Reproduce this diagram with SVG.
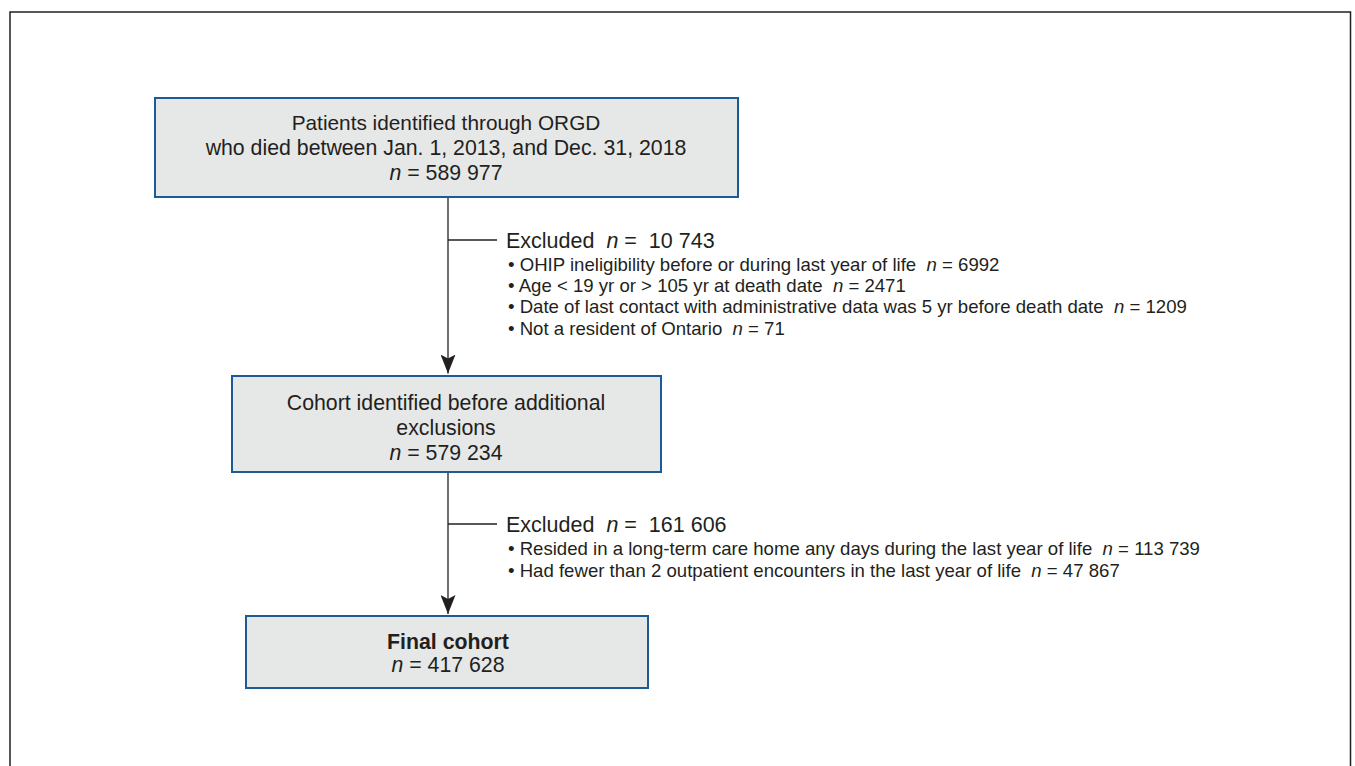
<svg xmlns="http://www.w3.org/2000/svg" width="1355" height="766" viewBox="0 0 1355 766">
<style>
.box{fill:#e6e7e7;stroke:#1c5b9a;stroke-width:2}
.t{font-family:"Liberation Sans",Arial,sans-serif;fill:#231f20;white-space:pre}
.c{font-size:21.3px;text-anchor:middle}
.ex{font-size:21.5px}
.b{font-size:18.6px}
.ln{stroke:#231f20;stroke-width:1.3;fill:none}
</style>
<defs>
<marker id="arr" markerWidth="19" markerHeight="15" refX="19" refY="7.5" orient="auto" markerUnits="userSpaceOnUse" viewBox="0 0 19 15">
<path d="M0,0 L19,7.5 L0,15 L4,7.5 Z" fill="#231f20"/>
</marker>
</defs>
<rect x="0" y="0" width="1355" height="766" fill="#fff"/>
<rect x="10" y="12" width="1340.5" height="770" fill="none" stroke="#231f20" stroke-width="1.5"/>
<g id="connectors">
<line class="ln" x1="448" y1="197" x2="448" y2="373.5" marker-end="url(#arr)"/>
<line class="ln" x1="448" y1="240" x2="497" y2="240"/>
<line class="ln" x1="448" y1="472" x2="448" y2="614" marker-end="url(#arr)"/>
<line class="ln" x1="448" y1="524" x2="497" y2="524"/>
</g>
<g id="n1">
<rect class="box" x="155" y="98" width="583" height="99"/>
<text class="t c" x="446" y="130" style="font-size:20.8px">Patients identified through ORGD</text>
<text class="t c" x="446" y="155">who died between Jan. 1, 2013, and Dec. 31, 2018</text>
<text class="t c" x="446" y="180"><tspan font-style="italic">n</tspan> = 589 977</text>
</g>
<g id="ex1">
<text class="t ex" x="506" y="248">Excluded  <tspan font-style="italic">n</tspan> =  10 743</text>
<text class="t b" x="508" y="270.5">• OHIP ineligibility before or during last year of life  <tspan font-style="italic">n</tspan> = 6992</text>
<text class="t b" x="508" y="291.5">• Age &lt; 19 yr or &gt; 105 yr at death date  <tspan font-style="italic">n</tspan> = 2471</text>
<text class="t b" x="508" y="312.5">• Date of last contact with administrative data was 5 yr before death date  <tspan font-style="italic">n</tspan> = 1209</text>
<text class="t b" x="508" y="334.5">• Not a resident of Ontario  <tspan font-style="italic">n</tspan> = 71</text>
</g>
<g id="n2">
<rect class="box" x="232" y="376" width="429" height="96"/>
<text class="t c" x="446" y="410">Cohort identified before additional</text>
<text class="t c" x="446" y="435">exclusions</text>
<text class="t c" x="446" y="460"><tspan font-style="italic">n</tspan> = 579 234</text>
</g>
<g id="ex2">
<text class="t ex" x="506" y="532">Excluded  <tspan font-style="italic">n</tspan> =  161 606</text>
<text class="t b" x="508" y="554.5">• Resided in a long-term care home any days during the last year of life  <tspan font-style="italic">n</tspan> = 113 739</text>
<text class="t b" x="508" y="576.5">• Had fewer than 2 outpatient encounters in the last year of life  <tspan font-style="italic">n</tspan> = 47 867</text>
</g>
<g id="n3">
<rect class="box" x="246" y="616" width="402" height="72"/>
<text class="t c" x="448" y="649" font-weight="bold">Final cohort</text>
<text class="t c" x="448" y="672"><tspan font-style="italic">n</tspan> = 417 628</text>
</g>
</svg>
